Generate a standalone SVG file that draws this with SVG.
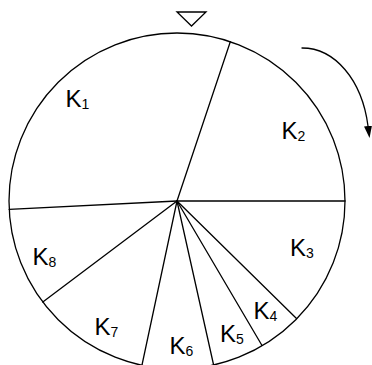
<svg xmlns="http://www.w3.org/2000/svg" width="372" height="365" viewBox="0 0 372 365">
<style>
.ln{fill:none;stroke:#000;stroke-width:1.3;stroke-linecap:round}
.lb{font-family:"Liberation Sans",Arial,sans-serif;font-size:24px;fill:#000}
.sb{font-size:14px}
</style>
<defs>
<marker id="ah" viewBox="0 0 12 8" refX="0" refY="4" markerWidth="12" markerHeight="8" markerUnits="userSpaceOnUse" orient="auto">
<path d="M0,0 L12,4 L0,8 z" fill="#000"/>
</marker>
</defs>
<rect width="372" height="365" fill="#fff"/>
<g id="wheel">
<circle class="ln" cx="177" cy="201" r="168"/>
</g>
<g id="spokes">
<line class="ln" x1="177" y1="201" x2="230.3" y2="41.7"/>
<line class="ln" x1="177" y1="201" x2="345" y2="201"/>
<line class="ln" x1="177" y1="201" x2="296.5" y2="318.5"/>
<line class="ln" x1="177" y1="201" x2="262" y2="345.5"/>
<line class="ln" x1="177" y1="201" x2="213.5" y2="364.5"/>
<line class="ln" x1="177" y1="201" x2="142" y2="365"/>
<line class="ln" x1="177" y1="201" x2="42.8" y2="302"/>
<line class="ln" x1="177" y1="201" x2="9.2" y2="209.4"/>
</g>
<g id="pointer">
<polygon class="ln" points="177,12 206,12 191.5,26" fill="#fff"/>
</g>
<g id="rotation-arrow">
<path class="ln" d="M302,48 C335,48 362,80 368,126" marker-end="url(#ah)"/>
</g>
<g id="K1"><text class="lb" x="65.5" y="107">K<tspan class="sb" dy="2">1</tspan></text></g>
<g id="K2"><text class="lb" x="281.5" y="139">K<tspan class="sb" dy="2">2</tspan></text></g>
<g id="K3"><text class="lb" x="290" y="256">K<tspan class="sb" dy="2">3</tspan></text></g>
<g id="K4"><text class="lb" x="253.5" y="319">K<tspan class="sb" dy="2">4</tspan></text></g>
<g id="K5"><text class="lb" x="220" y="342">K<tspan class="sb" dy="2">5</tspan></text></g>
<g id="K6"><text class="lb" x="169.5" y="353.5">K<tspan class="sb" dy="2">6</tspan></text></g>
<g id="K7"><text class="lb" x="94.5" y="335">K<tspan class="sb" dy="2">7</tspan></text></g>
<g id="K8"><text class="lb" x="32.5" y="265">K<tspan class="sb" dy="2">8</tspan></text></g>
</svg>
